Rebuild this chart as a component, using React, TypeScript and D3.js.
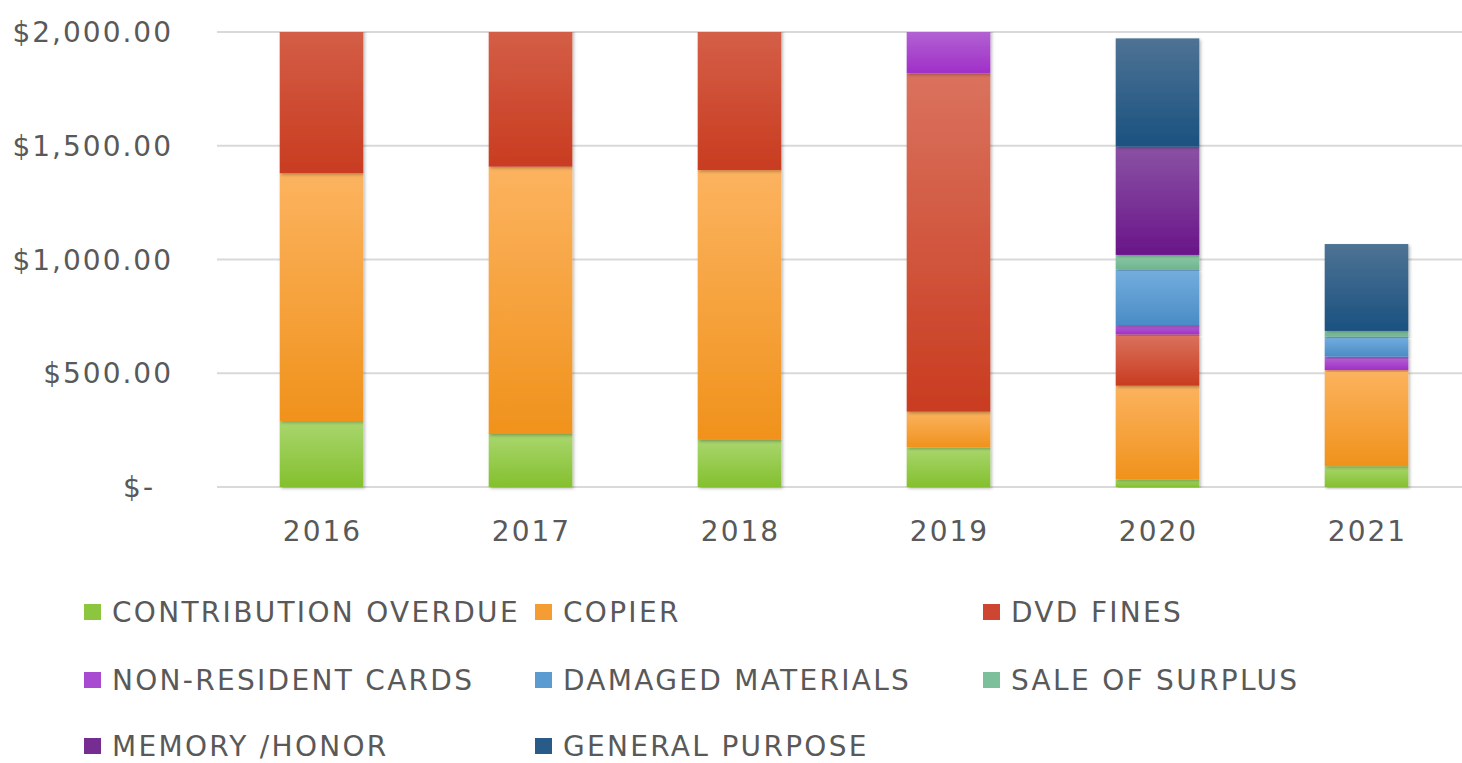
import React from 'react';
import * as d3 from 'd3';

const categories = ['2016', '2017', '2018', '2019', '2020', '2021'];
const contributionOverdue = [290, 233, 207, 174, 34, 92];
const copier = [1089, 1175, 1186, 157, 411, 422];
const dvdFines = [1000, 950, 950, 1487, 226, 0];
const nonResidentCards = [0, 0, 0, 200, 41, 59];
const damagedMaterials = [0, 0, 0, 0, 245, 88];
const saleOfSurplus = [0, 0, 0, 0, 63, 25];
const memoryHonor = [0, 0, 0, 0, 476, 0];
const generalPurpose = [0, 0, 0, 0, 476, 382];
const yTicks = [0, 500, 1000, 1500, 2000];
const yTickLabels = ['$-', '$500.00', '$1,000.00', '$1,500.00', '$2,000.00'];

const seriesNames = [
  'CONTRIBUTION OVERDUE', 'COPIER', 'DVD FINES', 'NON-RESIDENT CARDS',
  'DAMAGED MATERIALS', 'SALE OF SURPLUS', 'MEMORY /HONOR', 'GENERAL PURPOSE',
];
const seriesValues = [
  contributionOverdue, copier, dvdFines, nonResidentCards,
  damagedMaterials, saleOfSurplus, memoryHonor, generalPurpose,
];
const gradTop = ['#a9d66e', '#fcb35f', '#da725e', '#b466d4', '#74aede', '#8ccaa8', '#8a52a4', '#4e7394'];
const gradBottom = ['#84c02e', '#f0921c', '#c93c20', '#a02fc8', '#4a8cc6', '#6fb58f', '#6a1589', '#1a5180'];
const swatch = ['#8cc63e', '#f59d33', '#cc4631', '#a94bd0', '#5a9bd2', '#7cbf9b', '#762d92', '#285b87'];

const legendPos = [
  [84, 612], [535, 612], [983, 612],
  [84, 680], [535, 680], [983, 680],
  [84, 746], [535, 746],
];

export default function App() {
  const W = 1462, H = 763;
  const left = 217, right = 1471, top = 32, bottom = 487;
  const x = d3.scaleBand<string>().domain(categories).range([left, right]).paddingInner(0.6).paddingOuter(0.3);
  const y = d3.scaleLinear().domain([0, 2000]).range([bottom, top]);

  const table = categories.map((c, i) => {
    const row: any = { cat: c };
    seriesNames.forEach((s, k) => { row[s] = seriesValues[k][i]; });
    return row;
  });
  const stacked = d3.stack<any>().keys(seriesNames)(table);
  const txt = '#595959';
  const font = '"DejaVu Sans", sans-serif';

  return (
    <svg width={W} height={H} style={{ position: 'absolute', left: 0, top: 0, background: '#fff' }}>
      <defs>
        {seriesNames.map((s, k) => (
          <linearGradient key={s} id={`g${k}`} x1="0" y1="0" x2="0" y2="1">
            <stop offset="0" stopColor={gradTop[k]} />
            <stop offset="1" stopColor={gradBottom[k]} />
          </linearGradient>
        ))}
        <clipPath id="plot">
          <rect x={left} y={top} width={right - left} height={bottom - top + 10} />
        </clipPath>
        <filter id="sh" x="-20%" y="-5%" width="140%" height="115%">
          <feDropShadow dx="1.5" dy="1.5" stdDeviation="1.8" floodColor="#000" floodOpacity="0.28" />
        </filter>
      </defs>
      {yTicks.map((t, i) => (
        <g key={t}>
          <line x1={left} x2={W} y1={y(t)} y2={y(t)} stroke="#d9d9d9" strokeWidth={2} />
          <text x={t === 0 ? 155 : 173} y={y(t)} dy="0.36em" textAnchor="end" fill={txt}
            fontFamily={font} fontSize={28} letterSpacing={2}>{yTickLabels[i]}</text>
        </g>
      ))}
      <g clipPath="url(#plot)">
        {stacked.map((ser, k) => (
          <g key={ser.key} fill={`url(#g${k})`}>
            {ser.map((d, i) => {
              const h = y(d[0]) - y(d[1]);
              if (h <= 0) return null;
              return (
                <rect key={i} x={x(categories[i])!} y={y(d[1])} width={x.bandwidth()} height={h}
                  filter="url(#sh)" />
              );
            })}
          </g>
        ))}
      </g>
      {categories.map((c) => (
        <text key={c} x={x(c)! + x.bandwidth() / 2 + 1} y={541} textAnchor="middle" fill={txt}
          fontFamily={font} fontSize={28} letterSpacing={2}>{c}</text>
      ))}
      {seriesNames.map((s, k) => (
        <g key={s}>
          <rect x={legendPos[k][0]} y={legendPos[k][1] - 8} width={17} height={16} fill={swatch[k]} />
          <text x={legendPos[k][0] + 28} y={legendPos[k][1]} dy="0.36em" fill={txt}
            fontFamily={font} fontSize={28} letterSpacing={2.3}>{s}</text>
        </g>
      ))}
    </svg>
  );
}
